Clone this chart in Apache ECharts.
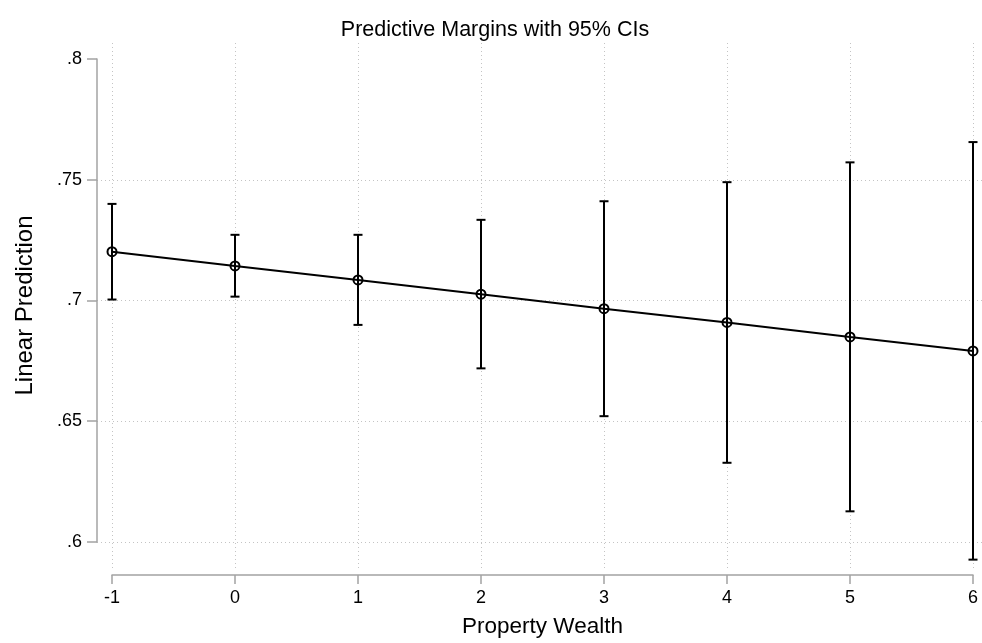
<!DOCTYPE html>
<html>
<head>
<meta charset="utf-8">
<title>Predictive Margins with 95% CIs</title>
<script src="https://cdn.jsdelivr.net/npm/echarts@6/dist/echarts.min.js"></script>
<style>
  html, body { margin: 0; padding: 0; background: #fff; }
  #chart { width: 982px; height: 643px; }
</style>
</head>
<body>
<div id="chart"></div>
<script>
// Property wealth levels and the estimated margins with 95% confidence bounds
const wealth = [-1, 0, 1, 2, 3, 4, 5, 6];
const margin = [0.7202, 0.7143, 0.7085, 0.7026, 0.6966, 0.6909, 0.6849, 0.6791];
const ciLower = [0.7004, 0.7016, 0.6899, 0.6719, 0.6521, 0.6328, 0.6127, 0.5927];
const ciUpper = [0.7400, 0.7272, 0.7272, 0.7334, 0.7411, 0.7490, 0.7572, 0.7656];

// Axis ticks and their labels
const xTicks = [-1, 0, 1, 2, 3, 4, 5, 6];
const yTicks = [0.6, 0.65, 0.7, 0.75, 0.8];
const yTickLabels = ['.6', '.65', '.7', '.75', '.8'];

const FONT = '"Liberation Sans", Arial, Helvetica, sans-serif';
const AXIS_GREY = '#a3a3a3';
const GRID_GREY = '#c4c4c4';

// Layout (pixels): plot region and the span covered by the axis ticks
const plotLeft = 97, plotRight = 982, plotTop = 43, plotBottom = 568;
const xAxisLeft = 112, xAxisRight = 973;
const yAxisTop = 59, yAxisBottom = 542;
const W = 982, H = 643;

// Extend the data grid's x range so -1 and 6 land under the x axis ticks
const unit = (xAxisRight - xAxisLeft) / (xTicks[xTicks.length - 1] - xTicks[0]);
const xMinExt = xTicks[0] - (xAxisLeft - plotLeft) / unit;
const xMaxExt = xTicks[xTicks.length - 1] + (plotRight - xAxisRight) / unit;

const ciData = wealth.map((w, i) => [w, ciLower[i], ciUpper[i]]);
const marginData = wealth.map((w, i) => [w, margin[i]]);

const chart = echarts.init(document.getElementById('chart'), null, { renderer: 'canvas' });

chart.setOption({
  backgroundColor: '#ffffff',
  animation: false,
  textStyle: { fontFamily: FONT },
  title: {
    text: 'Predictive Margins with 95% CIs',
    left: 490,
    textAlign: 'center',
    top: 14,
    textStyle: { fontFamily: FONT, fontSize: 21.5, fontWeight: 'normal', color: '#000' }
  },
  grid: [
    // x axis with vertical grid lines, spanning the full plot height
    { left: xAxisLeft, right: W - xAxisRight, top: plotTop, bottom: H - plotBottom, containLabel: false },
    // y axis with horizontal grid lines, plus the data
    { left: plotLeft, right: W - plotRight, top: yAxisTop, bottom: H - yAxisBottom, containLabel: false }
  ],
  xAxis: [
    {
      gridIndex: 0,
      type: 'value',
      min: xTicks[0],
      max: xTicks[xTicks.length - 1],
      interval: 1,
      offset: 7,
      name: 'Property Wealth',
      nameLocation: 'middle',
      nameGap: 40,
      nameTextStyle: { fontFamily: FONT, fontSize: 22.5, color: '#000' },
      axisLine: { show: true, onZero: false, lineStyle: { color: AXIS_GREY, width: 1.5 } },
      axisTick: { show: true, length: 9, lineStyle: { color: AXIS_GREY, width: 1.5 } },
      axisLabel: { margin: 14, fontSize: 18, color: '#000', fontFamily: FONT },
      splitLine: { show: true, lineStyle: { color: GRID_GREY, type: [1, 3], width: 1 } }
    },
    {
      gridIndex: 1,
      type: 'value',
      min: xMinExt,
      max: xMaxExt,
      show: false,
      axisLine: { onZero: false },
      splitLine: { show: false }
    }
  ],
  yAxis: [
    {
      gridIndex: 0,
      type: 'value',
      min: 0,
      max: 1,
      name: 'Linear Prediction',
      nameLocation: 'middle',
      nameGap: 75,
      nameRotate: 90,
      nameTextStyle: { fontFamily: FONT, fontSize: 24, color: '#000' },
      axisLine: { show: false, onZero: false },
      axisTick: { show: false },
      axisLabel: { show: false },
      splitLine: { show: false }
    },
    {
      gridIndex: 1,
      type: 'value',
      min: yTicks[0],
      max: yTicks[yTicks.length - 1],
      interval: 0.05,
      axisLine: { show: true, onZero: false, lineStyle: { color: AXIS_GREY, width: 1.5 } },
      axisTick: { show: true, length: 10, lineStyle: { color: AXIS_GREY, width: 1.5 } },
      axisLabel: {
        margin: 15,
        fontSize: 18,
        color: '#000',
        fontFamily: FONT,
        formatter: function (v) {
          let best = 0;
          yTicks.forEach((t, i) => { if (Math.abs(t - v) < Math.abs(yTicks[best] - v)) best = i; });
          return yTickLabels[best];
        }
      },
      splitLine: {
        show: true,
        showMaxLine: false,
        lineStyle: { color: GRID_GREY, type: [1, 3], width: 1 }
      }
    }
  ],
  series: [
    {
      name: '95% CI',
      type: 'custom',
      xAxisIndex: 1,
      yAxisIndex: 1,
      clip: false,
      z: 2,
      data: ciData,
      encode: { x: 0, y: [1, 2] },
      renderItem: function (params, api) {
        const x = api.value(0);
        const lo = api.coord([x, api.value(1)]);
        const hi = api.coord([x, api.value(2)]);
        const cap = 4.5;
        const style = { stroke: '#000', lineWidth: 2, fill: null };
        return {
          type: 'group',
          children: [
            { type: 'line', shape: { x1: lo[0], y1: lo[1], x2: hi[0], y2: hi[1] }, style: style },
            { type: 'line', shape: { x1: lo[0] - cap, y1: lo[1], x2: lo[0] + cap, y2: lo[1] }, style: style },
            { type: 'line', shape: { x1: hi[0] - cap, y1: hi[1], x2: hi[0] + cap, y2: hi[1] }, style: style }
          ]
        };
      }
    },
    {
      name: 'Linear Prediction',
      type: 'line',
      xAxisIndex: 1,
      yAxisIndex: 1,
      clip: false,
      z: 3,
      data: marginData,
      symbol: 'circle',
      symbolSize: 9,
      showAllSymbol: true,
      lineStyle: { color: '#000', width: 2 },
      itemStyle: { color: 'rgba(0,0,0,0)', borderColor: '#000', borderWidth: 2 },
      emphasis: { disabled: true }
    }
  ]
});
</script>
</body>
</html>
